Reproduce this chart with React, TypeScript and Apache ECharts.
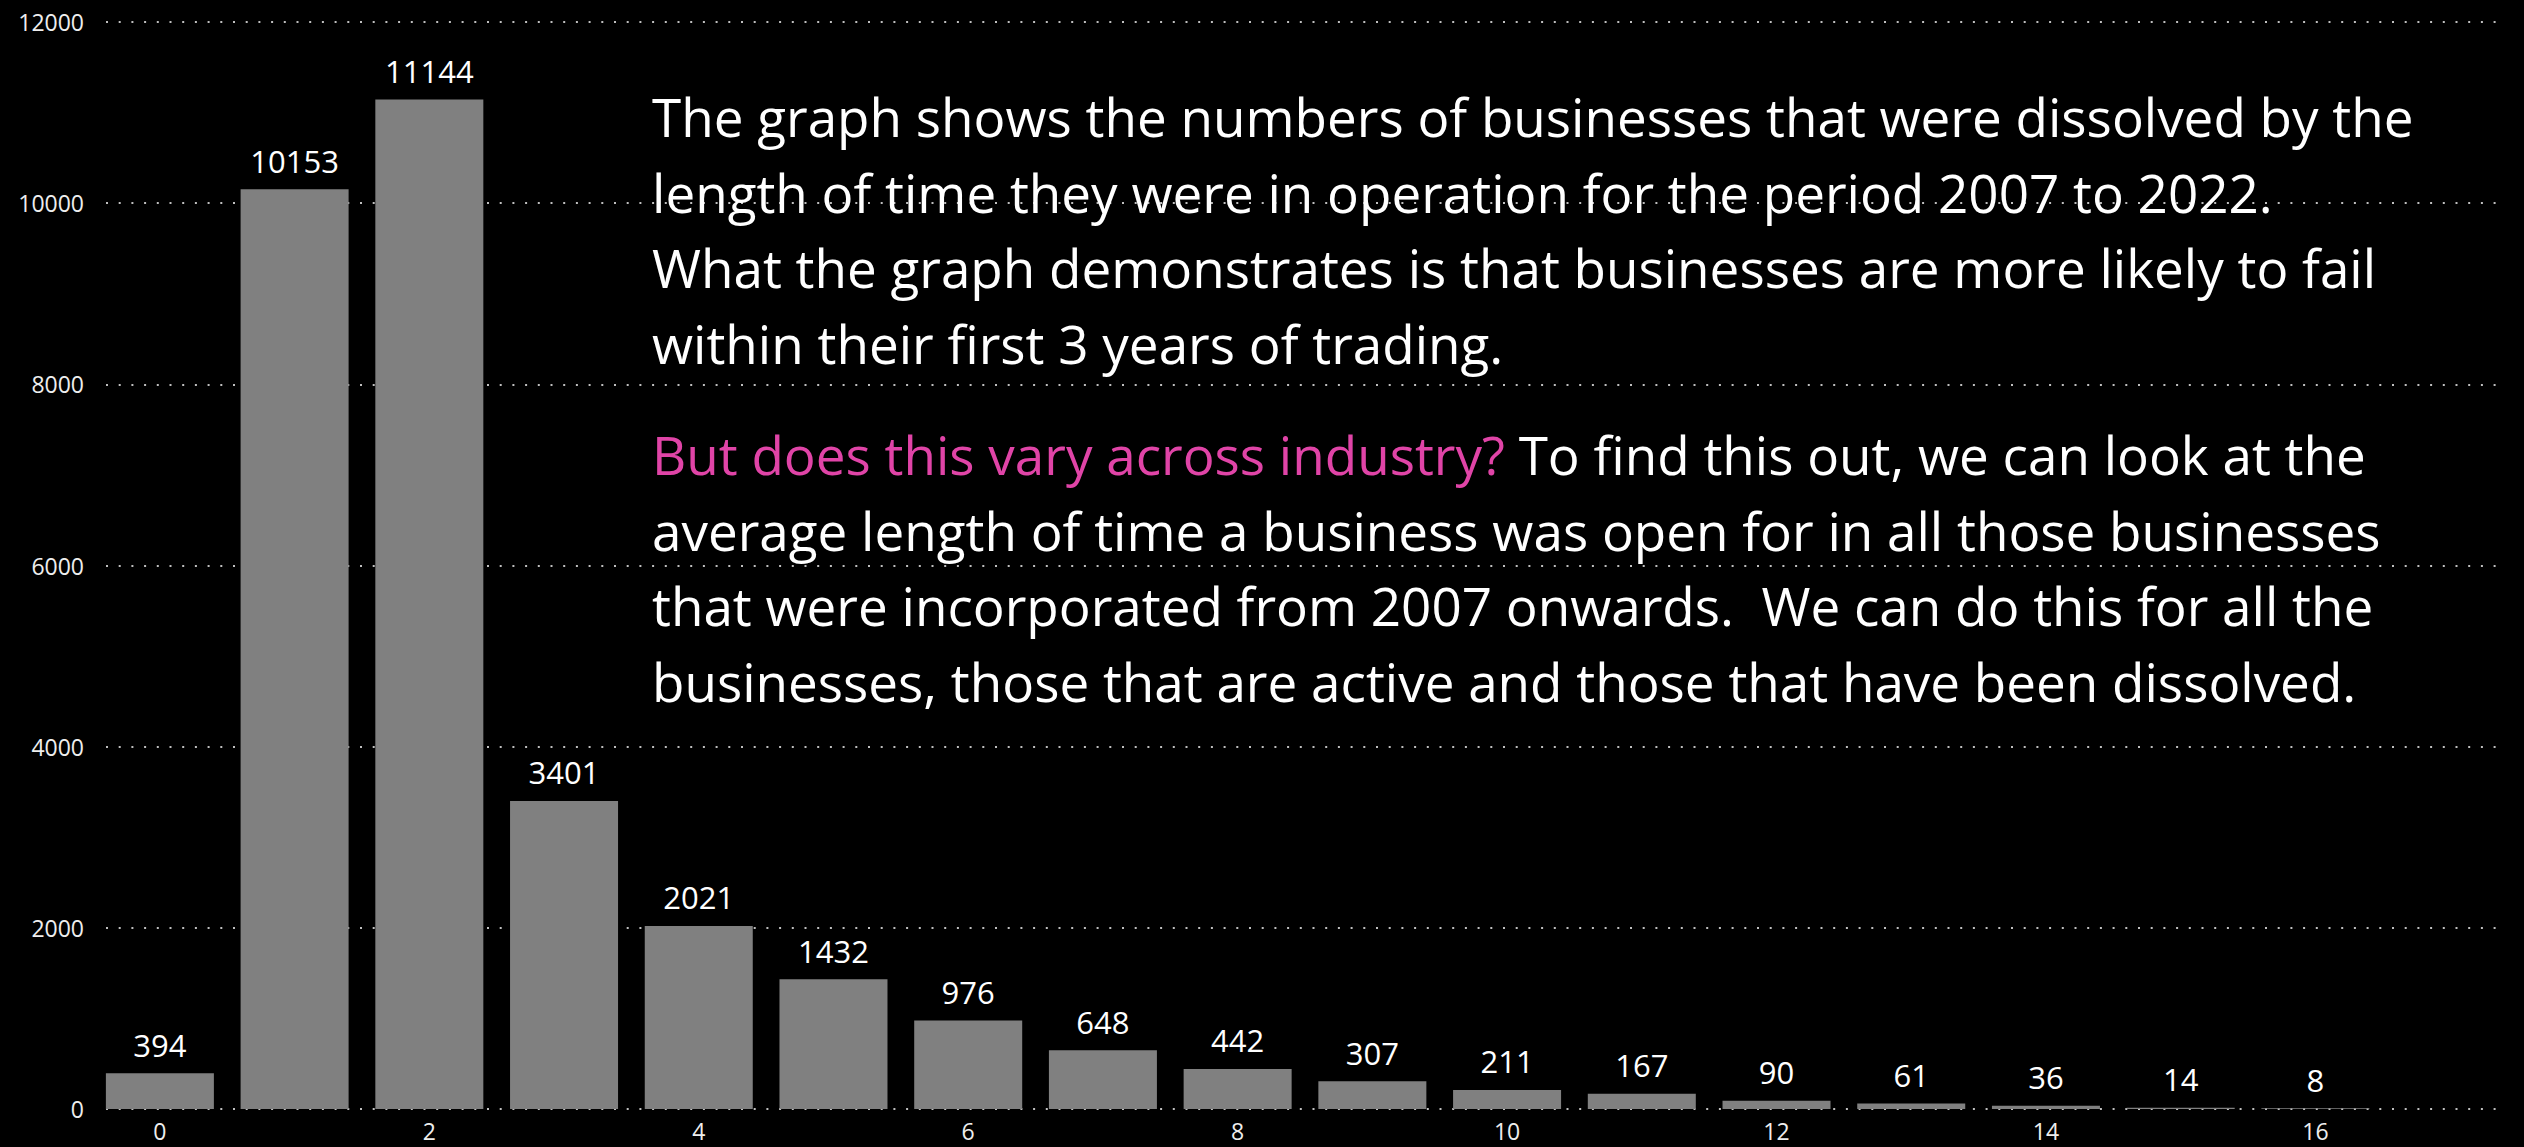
import React, { useEffect, useRef } from "react";
import * as echarts from "echarts";

const years = [0, 1, 2, 3, 4, 5, 6, 7, 8, 9, 10, 11, 12, 13, 14, 15, 16];
const dissolved = [394, 10153, 11144, 3401, 2021, 1432, 976, 648, 442, 307, 211, 167, 90, 61, 36, 14, 8];
const xTickValues = [0, 2, 4, 6, 8, 10, 12, 14, 16];

const para1 = [
  "The graph shows the numbers of businesses that were dissolved by the",
  "length of time they were in operation for the period 2007 to 2022.",
  "What the graph demonstrates is that businesses are more likely to fail",
  "within their first 3 years of trading.",
];
const para2 = [
  "{p|But does this vary across industry?} To find this out, we can look at the",
  "average length of time a business was open for in all those businesses",
  "that were incorporated from 2007 onwards.  We can do this for all the",
  "businesses, those that are active and those that have been dissolved.",
];

const FONT = "'Open Sans', 'Noto Sans', sans-serif";
const TEXT_SIZE = 53;
const LINE_H = 75.5;

export default function App() {
  const ref = useRef<HTMLDivElement>(null);
  useEffect(() => {
    document.body.style.margin = "0";
    document.body.style.background = "#000";
    const chart = echarts.init(ref.current!, null, { renderer: "svg" });
    chart.setOption({
      animation: false,
      backgroundColor: "#000000",
      grid: { left: 106, right: 20, top: 22, bottom: 38, containLabel: false },
      xAxis: {
        type: "value",
        min: -0.4,
        max: 17.4,
        axisLine: { show: false },
        axisTick: { show: false },
        splitLine: { show: false },
        axisLabel: {
          customValues: xTickValues,
          color: "#eeeeee",
          fontSize: 23,
          fontFamily: FONT,
          margin: 10,
          formatter: (v: number) => String(v),
        },
      },
      yAxis: {
        type: "value",
        min: 0,
        max: 12000,
        interval: 2000,
        axisLine: { show: false },
        axisTick: { show: false },
        axisLabel: {
          color: "#eeeeee",
          fontSize: 23,
          fontFamily: FONT,
          margin: 22,
          formatter: (v: number) => String(v),
        },
        splitLine: {
          show: true,
          lineStyle: { color: "#bfbfbf", width: 2, type: [2, 10.7] },
        },
      },
      series: [
        {
          type: "bar",
          data: years.map((y, i) => [y, dissolved[i]]),
          barWidth: 108,
          itemStyle: { color: "#808080" },
          label: {
            show: true,
            position: "top",
            distance: 13,
            color: "#ffffff",
            fontSize: 31,
            fontFamily: FONT,
            formatter: (p: any) => String(p.value[1]),
          },
        },
      ],
      graphic: [
        {
          type: "text",
          left: 652,
          top: 79,
          z: 100,
          style: {
            text: para1.join("\n"),
            fill: "#ffffff",
            fontSize: TEXT_SIZE,
            fontFamily: FONT,
            lineHeight: LINE_H,
          },
        },
        {
          type: "text",
          left: 652,
          top: 417,
          z: 100,
          style: {
            text: para2.join("\n"),
            fill: "#ffffff",
            fontSize: TEXT_SIZE,
            fontFamily: FONT,
            lineHeight: LINE_H,
            rich: {
              p: { fill: "#E044A7", fontSize: TEXT_SIZE, fontFamily: FONT, lineHeight: LINE_H },
            },
          },
        },
      ],
    });
    return () => chart.dispose();
  }, []);
  return <div ref={ref} style={{ width: 2524, height: 1147, background: "#000" }} />;
}
